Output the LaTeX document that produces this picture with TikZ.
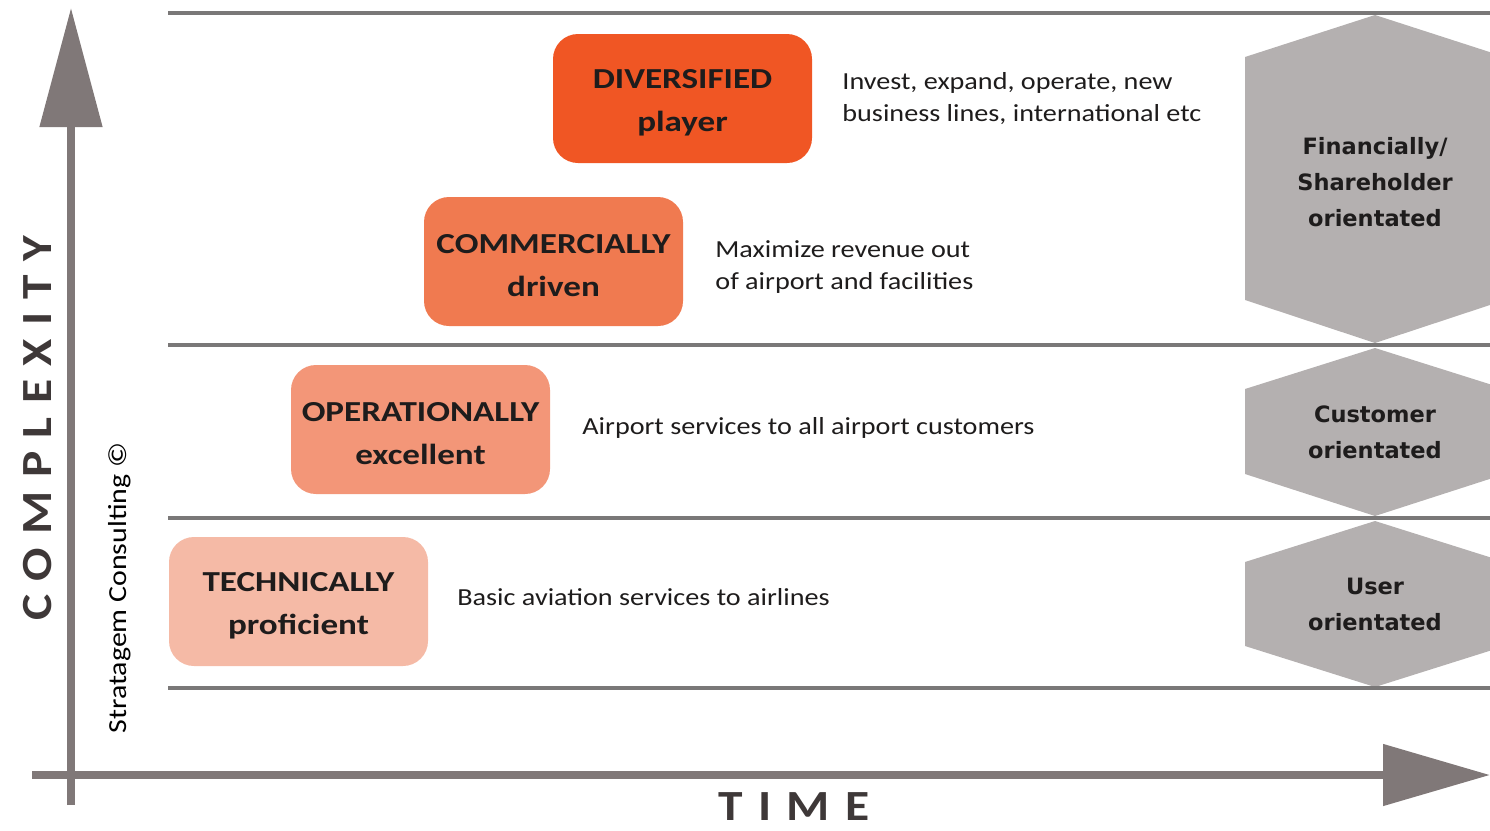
\documentclass[tikz,border=0pt]{standalone}
\usepackage{fontspec}
\setmainfont{Carlito}[FakeStretch=1.15]
\newfontfamily\stagefont{Carlito}[FakeStretch=1.21]
\newfontfamily\hexfont{DejaVu Sans}
\usepackage{tikz}
\newcommand{\stagelift}{\rule{0pt}{28pt}}
\definecolor{axisGrey}{RGB}{128,120,120}
\definecolor{bandGrey}{RGB}{122,120,120}
\definecolor{hexGrey}{RGB}{180,176,176}
\definecolor{txtDark}{RGB}{30,28,28}
\definecolor{labelDark}{RGB}{62,56,56}
\definecolor{stageA}{RGB}{245,186,166}
\definecolor{stageB}{RGB}{243,150,120}
\definecolor{stageC}{RGB}{240,122,80}
\definecolor{stageD}{RGB}{240,86,36}
\usetikzlibrary{arrows.meta,positioning}
\tikzset{
  x=1pt,y=-1pt,
  stage/.style={shape=rectangle,rounded corners=25pt,minimum width=259pt,minimum height=129pt,inner sep=0,align=center,text=txtDark,font=\stagefont\fontsize{29}{43}\selectfont\bfseries},
  desc/.style={anchor=west,align=left,inner sep=0,text=txtDark,font=\fontsize{24.5}{32}\selectfont},
  hex/.style={fill=hexGrey},
  hextext/.style={align=center,inner sep=0,text=txtDark,font=\hexfont\bfseries\fontsize{22.5}{36}\selectfont},
  band/.style={draw=bandGrey,line width=4pt},
  axis/.style={draw=axisGrey,line width=8pt},
  axislabel/.style={inner sep=0,text=labelDark,font=\fontsize{43}{43}\selectfont\bfseries},
}
\begin{document}
\begin{tikzpicture}
  \useasboundingbox (0,0) rectangle (1490,830);
  \clip (0,0) rectangle (1490,830);

  % orientation hexagons
  \fill[hex] (1375,15) -- (1245,57) -- (1245,300) -- (1375,343) -- (1505,300) -- (1505,57) -- cycle;
  \fill[hex] (1375,348) -- (1245,389) -- (1245,474) -- (1375,516) -- (1505,474) -- (1505,389) -- cycle;
  \fill[hex] (1375,521) -- (1245,562) -- (1245,646) -- (1375,687) -- (1505,646) -- (1505,562) -- cycle;
  \node (fin) [hextext] at (1375,182) {Financially/\\Shareholder\\orientated};
  \node (cust) [hextext] at (1375,432) {Customer\\orientated};
  \node (user) [hextext] at (1375,604) {User\\orientated};

  % bands
  \foreach \y in {13,345,518,688}
    \draw[band] (168,\y) -- (1490,\y);

  % stages
  \node (tech) [stage,fill=stageA] at (298.5,601.5) {\stagelift TECHNICALLY\\proficient};
  \node (oper) [stage,fill=stageB] at (420.5,429.5) {\stagelift OPERATIONALLY\\excellent};
  \node (comm) [stage,fill=stageC] at (553.5,261.5) {\stagelift COMMERCIALLY\\driven};
  \node (div) [stage,fill=stageD] at (682.5,98.5) {\stagelift DIVERSIFIED\\player};
  \node (techd) [desc,right=29pt of tech,yshift=4pt] {Basic aviation services to airlines};
  \node (operd) [desc,right=32pt of oper,yshift=2pt] {Airport services to all airport customers};
  \node (commd) [desc,right=32pt of comm,yshift=-6pt] {Maximize revenue out\\of airport and facilities};
  \node (divd) [desc,right=30pt of div] {Invest, expand, operate, new\\business lines, international etc};

  % axes
  \coordinate (ybot) at (71,805);
  \coordinate (ytop) at (71,8);
  \coordinate (xleft) at (32,775);
  \coordinate (xright) at (1490,775);
  \draw[axis,-{Triangle[width=61pt,length=119pt]}] (ybot) -- (ytop);
  \draw[axis,-{Triangle[width=60pt,length=107pt]}] (xleft) -- (xright);
  \node (cplx) [axislabel,rotate=90] at (38,428) {\addfontfeature{LetterSpace=31}COMPLEXITY};
  \node (time) [axislabel,anchor=base] at (794,820) {\addfontfeature{LetterSpace=36}TIME};
  \node (copy) [rotate=90,inner sep=0,font=\fontsize{26}{26}\selectfont] at (120,588) {Stratagem Consulting \textcopyright};
\end{tikzpicture}
\end{document}
